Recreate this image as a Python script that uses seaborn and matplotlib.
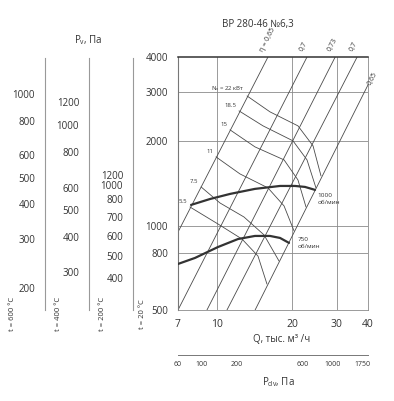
import pandas as pd
import seaborn as sns
import matplotlib.pyplot as plt
from matplotlib.ticker import NullFormatter, NullLocator

# ---- values ----
q_ticks = [7, 10, 20, 30, 40]
p_ticks = [500, 800, 1000, 2000, 3000, 4000]

# fan curves: Q, thousand m3/h  -> P, Pa
q_1000 = [7.89, 9.39, 11.28, 14.18, 17.85, 20.47, 22.44, 24.6]
p_1000 = [1186, 1245, 1298, 1353, 1386, 1386, 1375, 1342]
q_750 = [7.0, 8.18, 10.1, 12.14, 14.18, 16.28, 17.85, 19.38]
p_750 = [730, 767, 839, 896, 919, 919, 904, 868]

# efficiency rays (two end points each)
eta_labels = ["η = 0,65", "0,7", "0,73", "0,7", "0,65"]
eta_q = [(7.0, 15.98), (7.0, 22.86), (9.13, 29.6), (10.97, 36.2), (14.2, 40.0)]
eta_p = [(949, 4000), (500, 4000), (500, 4000), (500, 4000), (500, 3180)]

# shaft power lines
power_labels = ["N$_\\mathrm{v}$ = 22 кВт", "18.5", "15", "11", "7.5", "5.5"]
power_q = [
    [13.19, 16.28, 21.04, 24.16, 25.99],
    [12.25, 15.27, 20.1, 22.86, 24.82],
    [11.28, 14.18, 18.52, 21.04, 22.65],
    [9.92, 12.36, 15.98, 18.52, 20.3],
    [8.65, 10.29, 12.82, 15.41, 17.68],
    [7.81, 10.1, 12.59, 14.58, 15.83],
]
power_p = [
    [2904, 2548, 2271, 1927, 1505],
    [2569, 2271, 2008, 1717, 1364],
    [2198, 1911, 1717, 1456, 1166],
    [1760, 1530, 1364, 1176, 957],
    [1375, 1205, 1074, 927, 748],
    [1166, 1014, 896, 779, 619],
]

# left pressure scales for other temperatures (tick values and the
# 20 °C pressure they sit at)
t600_labels = [1000, 800, 600, 500, 400, 300, 200]
t600_at = [2953, 2366, 1789, 1480, 1196, 896, 599]
t600_minor = [2682, 2087, 1341, 1043, 840, 773, 711, 656]
t400_labels = [1200, 1000, 800, 600, 500, 400, 300]
t400_at = [2767, 2290, 1832, 1364, 1137, 911, 683]
t400_minor = [2055, 1598, 1027, 806]
t200_labels = [1200, 1000, 800, 700, 600, 500, 400]
t200_at = [1515, 1398, 1245, 1074, 919, 779, 650]
t200_minor = [1147, 998, 847, 712]

# dynamic pressure scale under the Q axis
pdv_at = [7.0, 7.96, 8.65, 10.57, 12.03, 14.85, 20.1, 22.03, 25.75, 29.0, 33.3, 37.9]
pdv_labels = ["60", "", "100", "", "200", "", "", "600", "", "1000", "", "1750"]

sns.set_style("white")
plt.rcParams["font.family"] = ["Open Sans", "DejaVu Sans"]
plt.rcParams["mathtext.fontset"] = "custom"
plt.rcParams["mathtext.rm"] = "Open Sans"
plt.rcParams["mathtext.it"] = "Open Sans:italic"

W, H = 394, 401
fig = plt.figure(figsize=(W / 100, H / 100), dpi=100)
fig.patch.set_facecolor("white")

txt = "#333333"
grid_c = "#8a8a8a"
line_c = "#4a4a4a"

# ---- main chart ----
ax = fig.add_axes([178 / W, 91 / H, 190 / W, 253 / H])
ax.set_xscale("log")
ax.set_yscale("log")
ax.set_xlim(7, 40)
ax.set_ylim(500, 4000)

for q in [10, 20, 30]:
    ax.axvline(q, color=grid_c, lw=0.6, zorder=1)
for p in [800, 1000, 2000, 3000]:
    ax.axhline(p, color=grid_c, lw=0.6, zorder=1)

for s in ["right", "bottom"]:
    ax.spines[s].set_color(grid_c)
    ax.spines[s].set_linewidth(0.6)
ax.spines["left"].set_color("#777777")
ax.spines["left"].set_linewidth(0.8)
ax.spines["top"].set_color("#333333")
ax.spines["top"].set_linewidth(1.1)

for qs, ps in zip(eta_q, eta_p):
    sns.lineplot(x=list(qs), y=list(ps), ax=ax, sort=False, estimator=None,
                 color=line_c, lw=0.6, zorder=2)

for lab, qs, ps in zip(power_labels, power_q, power_p):
    sns.lineplot(x=qs, y=ps, ax=ax, sort=False, estimator=None,
                 color=line_c, lw=0.6, zorder=2)
    ax.annotate(lab, (qs[0], ps[0]), xytext=(-2, 2), textcoords="offset points",
                ha="right", va="bottom", fontsize=4.3, color=txt)

sns.lineplot(x=q_1000, y=p_1000, ax=ax, sort=False, estimator=None,
             color="#333333", lw=1.6, zorder=3)
sns.lineplot(x=q_750, y=p_750, ax=ax, sort=False, estimator=None,
             color="#333333", lw=1.6, zorder=3)
ax.annotate("1000\nоб/мин", (q_1000[-1], p_1000[-1]), xytext=(2, -2),
            textcoords="offset points", ha="left", va="top", fontsize=4.6,
            color=txt, linespacing=1.5)
ax.annotate("750\nоб/мин", (q_750[-1], p_750[-1]), xytext=(6, 4),
            textcoords="offset points", ha="left", va="top", fontsize=4.6,
            color=txt, linespacing=1.5)

for i, (lab, qs, ps) in enumerate(zip(eta_labels, eta_q, eta_p)):
    off = (-2, 3) if i < 4 else (3, -1)
    ax.annotate(lab, (qs[1], ps[1]), xytext=off, textcoords="offset points",
                ha="left", va="bottom", rotation=63, rotation_mode="anchor",
                fontsize=5, color=txt, annotation_clip=False)

ax.set_xticks(q_ticks)
ax.set_xticklabels([str(v) for v in q_ticks])
ax.set_yticks(p_ticks)
ax.set_yticklabels([str(v) for v in p_ticks])
ax.xaxis.set_minor_locator(NullLocator())
ax.yaxis.set_minor_locator(NullLocator())
ax.tick_params(axis="x", length=0, pad=6.5, labelsize=7.5, labelcolor=txt)
ax.tick_params(axis="y", length=3.6, width=0.6, color=grid_c, pad=3.5,
               labelsize=7, labelcolor=txt, direction="out")
ax.set_xlabel("")
ax.set_ylabel("")

fig.text(258 / W, 1 - 24 / H, "ВР 280-46 №6,3", ha="center", va="center",
         fontsize=7, color=txt)
fig.text(282 / W, 1 - 339 / H, "Q, тыс. м³ /ч", ha="center", va="center",
         fontsize=7, color=txt)
fig.text(88 / W, 1 - 40 / H, "P$_\\mathrm{v}$, Па", ha="center", va="center",
         fontsize=7, color=txt)

# ---- left temperature scales ----
scales = [
    (45, t600_labels, t600_at, t600_minor),
    (89, t400_labels, t400_at, t400_minor),
    (133, t200_labels, t200_at, t200_minor),
]
for xpix, labs, pos, minor in scales:
    a = fig.add_axes([xpix / W, 91 / H, 0.0001, 252 / H])
    a.set_yscale("log")
    a.set_ylim(500, 3980)
    a.set_xticks([])
    for s in ["top", "right", "bottom"]:
        a.spines[s].set_visible(False)
    a.spines["left"].set_color("#999999")
    a.spines["left"].set_linewidth(0.8)
    a.set_yticks(pos)
    a.set_yticklabels([str(v) for v in labs])
    a.set_yticks(minor, minor=True)
    a.yaxis.set_minor_formatter(NullFormatter())
    a.tick_params(axis="y", which="both", length=3.6, width=0.6, color="#999999",
                  pad=3.5, labelsize=7, labelcolor=txt)
    a.patch.set_alpha(0)

for xpix, lab in [(13, "t = 600 °C"), (58, "t = 400 °C"), (102, "t = 200 °C"),
                  (143, "t = 20 °C")]:
    fig.text(xpix / W, 1 - 314 / H, lab, rotation=90, ha="center", va="center",
             fontsize=5.5, color=txt)

# ---- dynamic pressure scale ----
ad = fig.add_axes([178 / W, 46 / H, 190 / W, 0.0001])
ad.set_xscale("log")
ad.set_xlim(7, 40)
ad.set_yticks([])
for s in ["top", "right", "left"]:
    ad.spines[s].set_visible(False)
ad.spines["bottom"].set_color("#777777")
ad.spines["bottom"].set_linewidth(0.7)
ad.set_xticks(pdv_at)
ad.set_xticklabels(pdv_labels)
ad.xaxis.set_minor_locator(NullLocator())
ad.tick_params(axis="x", direction="in", length=3.6, width=0.6, color="#777777",
               pad=4, labelsize=5, labelcolor=txt)
ad.patch.set_alpha(0)
fig.text(278 / W, 1 - 382 / H, "P$_\\mathrm{dv}$, Па", ha="center", va="center",
         fontsize=7, color=txt)

fig.savefig("out.png", dpi=100)
